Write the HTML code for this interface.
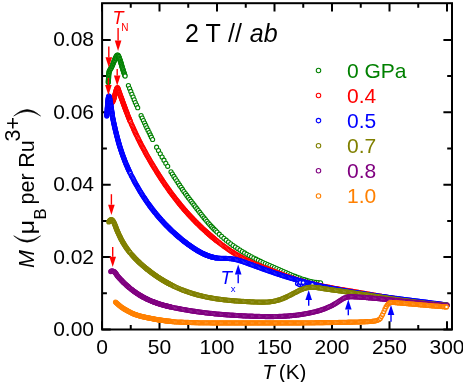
<!DOCTYPE html>
<html><head><meta charset="utf-8"><title>M vs T</title>
<style>
html,body{margin:0;padding:0;background:#fff;}
body{width:463px;height:382px;overflow:hidden;}
svg{display:block;will-change:transform;font-family:"Liberation Sans",sans-serif;}
circle{r:2.05px;fill:#fff;stroke-width:1.1px;}
.d circle{r:1.9px;stroke-width:1.4px;}
.ax{stroke:#000;stroke-width:2;fill:none;}
text{font-family:"Liberation Sans",sans-serif;}
</style></head><body>
<svg width="463" height="382" viewBox="0 0 463 382">
<rect width="463" height="382" fill="#fff"/>
<rect class="ax" x="102.1" y="3.2" width="349.9" height="326.3"/>
<path class="ax" d="M102.00 329.5v-8.3M102.00 3.2v8.3M130.75 329.5v-4.6M130.75 3.2v4.6M159.50 329.5v-8.3M159.50 3.2v8.3M188.25 329.5v-4.6M188.25 3.2v4.6M217.00 329.5v-8.3M217.00 3.2v8.3M245.75 329.5v-4.6M245.75 3.2v4.6M274.50 329.5v-8.3M274.50 3.2v8.3M303.25 329.5v-4.6M303.25 3.2v4.6M332.00 329.5v-8.3M332.00 3.2v8.3M360.75 329.5v-4.6M360.75 3.2v4.6M389.50 329.5v-8.3M389.50 3.2v8.3M418.25 329.5v-4.6M418.25 3.2v4.6M447.00 329.5v-8.3M447.00 3.2v8.3M102.1 329.50h8.6M452 329.50h-8.6M102.1 293.30h4.8M452 293.30h-4.8M102.1 257.10h8.6M452 257.10h-8.6M102.1 220.90h4.8M452 220.90h-4.8M102.1 184.70h8.6M452 184.70h-8.6M102.1 148.50h4.8M452 148.50h-4.8M102.1 112.30h8.6M452 112.30h-8.6M102.1 76.10h4.8M452 76.10h-4.8M102.1 39.90h8.6M452 39.90h-8.6"/>
<g stroke="#008000"><circle cx="108.3" cy="82.5"/><circle cx="108.3" cy="81.7"/><circle cx="108.4" cy="80.9"/><circle cx="108.4" cy="80.1"/><circle cx="108.5" cy="79.3"/><circle cx="108.5" cy="78.5"/><circle cx="108.6" cy="77.7"/><circle cx="108.6" cy="76.9"/><circle cx="108.6" cy="76.1"/><circle cx="108.7" cy="75.3"/><circle cx="108.7" cy="74.5"/><circle cx="108.8" cy="73.8"/><circle cx="108.9" cy="73.0"/><circle cx="109.0" cy="72.2"/><circle cx="109.2" cy="71.4"/><circle cx="109.5" cy="70.7"/><circle cx="109.9" cy="70.0"/><circle cx="110.3" cy="69.3"/><circle cx="110.7" cy="68.6"/><circle cx="111.1" cy="67.9"/><circle cx="111.5" cy="67.2"/><circle cx="111.8" cy="66.5"/><circle cx="112.2" cy="65.8"/><circle cx="112.5" cy="65.0"/><circle cx="112.8" cy="64.3"/><circle cx="113.1" cy="63.6"/><circle cx="113.4" cy="62.8"/><circle cx="113.7" cy="62.1"/><circle cx="114.0" cy="61.4"/><circle cx="114.3" cy="60.6"/><circle cx="114.6" cy="59.9"/><circle cx="114.9" cy="59.2"/><circle cx="115.3" cy="58.4"/><circle cx="115.6" cy="57.7"/><circle cx="115.9" cy="57.0"/><circle cx="116.3" cy="56.3"/><circle cx="116.7" cy="55.6"/><circle cx="117.2" cy="55.0"/><circle cx="117.9" cy="55.0"/><circle cx="118.3" cy="55.7"/><circle cx="118.7" cy="56.4"/><circle cx="119.0" cy="57.1"/><circle cx="119.3" cy="57.9"/><circle cx="119.5" cy="58.6"/><circle cx="119.8" cy="59.4"/><circle cx="120.1" cy="60.1"/><circle cx="120.3" cy="60.9"/><circle cx="120.6" cy="61.6"/><circle cx="120.8" cy="62.4"/><circle cx="121.0" cy="63.2"/><circle cx="121.3" cy="63.9"/><circle cx="121.5" cy="64.7"/><circle cx="121.7" cy="65.5"/><circle cx="121.9" cy="66.2"/><circle cx="122.1" cy="67.0"/><circle cx="122.4" cy="67.7"/><circle cx="122.6" cy="68.5"/><circle cx="122.9" cy="69.3"/><circle cx="123.1" cy="70.0"/><circle cx="123.3" cy="70.8"/><circle cx="123.6" cy="71.5"/><circle cx="123.8" cy="72.3"/><circle cx="124.1" cy="73.1"/><circle cx="124.3" cy="73.8"/><circle cx="124.6" cy="74.6"/><circle cx="124.8" cy="75.3"/><circle cx="125.1" cy="76.1"/><circle cx="128.4" cy="85.5"/><circle cx="129.6" cy="88.5"/><circle cx="130.8" cy="91.4"/><circle cx="131.9" cy="94.3"/><circle cx="133.1" cy="97.1"/><circle cx="134.2" cy="99.8"/><circle cx="135.3" cy="102.5"/><circle cx="136.5" cy="105.1"/><circle cx="137.7" cy="107.7"/><circle cx="141.1" cy="115.5"/><circle cx="142.2" cy="118.0"/><circle cx="143.4" cy="120.5"/><circle cx="144.6" cy="123.0"/><circle cx="145.7" cy="125.4"/><circle cx="146.8" cy="127.8"/><circle cx="148.0" cy="130.2"/><circle cx="149.2" cy="132.6"/><circle cx="150.3" cy="134.9"/><circle cx="151.4" cy="137.2"/><circle cx="152.6" cy="139.5"/><circle cx="156.6" cy="147.2"/><circle cx="158.5" cy="150.6"/><circle cx="160.3" cy="153.8"/><circle cx="162.1" cy="157.1"/><circle cx="164.0" cy="160.2"/><circle cx="165.8" cy="163.3"/><circle cx="167.7" cy="166.3"/><circle cx="171.0" cy="171.8"/><circle cx="172.4" cy="174.1"/><circle cx="173.9" cy="176.4"/><circle cx="175.3" cy="178.6"/><circle cx="176.8" cy="180.8"/><circle cx="178.2" cy="183.0"/><circle cx="179.6" cy="185.2"/><circle cx="181.1" cy="187.3"/><circle cx="182.5" cy="189.4"/><circle cx="183.9" cy="191.5"/><circle cx="185.4" cy="193.5"/><circle cx="186.8" cy="195.4"/><circle cx="188.2" cy="197.4"/><circle cx="189.7" cy="199.3"/><circle cx="191.1" cy="201.2"/><circle cx="192.6" cy="203.1"/><circle cx="194.0" cy="204.9"/><circle cx="195.4" cy="206.8"/><circle cx="196.9" cy="208.7"/><circle cx="198.3" cy="210.6"/><circle cx="199.8" cy="212.4"/><circle cx="201.2" cy="214.3"/><circle cx="202.6" cy="216.1"/><circle cx="204.1" cy="217.9"/><circle cx="205.5" cy="219.6"/><circle cx="206.9" cy="221.3"/><circle cx="208.4" cy="223.0"/><circle cx="209.8" cy="224.6"/><circle cx="211.2" cy="226.2"/><circle cx="212.7" cy="227.7"/><circle cx="214.1" cy="229.2"/><circle cx="215.6" cy="230.6"/><circle cx="217.0" cy="232.0"/><circle cx="219.3" cy="234.2"/><circle cx="221.6" cy="236.3"/><circle cx="223.9" cy="238.3"/><circle cx="226.2" cy="240.2"/><circle cx="228.5" cy="242.0"/><circle cx="230.8" cy="243.8"/><circle cx="233.1" cy="245.5"/><circle cx="235.4" cy="247.1"/><circle cx="237.7" cy="248.6"/><circle cx="240.0" cy="250.1"/><circle cx="242.3" cy="251.6"/><circle cx="244.6" cy="252.9"/><circle cx="246.9" cy="254.3"/><circle cx="249.2" cy="255.6"/><circle cx="251.5" cy="256.8"/><circle cx="253.8" cy="258.0"/><circle cx="256.1" cy="259.2"/><circle cx="258.4" cy="260.3"/><circle cx="260.7" cy="261.4"/><circle cx="263.0" cy="262.5"/><circle cx="265.3" cy="263.5"/><circle cx="267.6" cy="264.5"/><circle cx="269.9" cy="265.6"/><circle cx="272.2" cy="266.6"/><circle cx="274.5" cy="267.6"/><circle cx="276.8" cy="268.6"/><circle cx="279.1" cy="269.5"/><circle cx="281.4" cy="270.5"/><circle cx="283.7" cy="271.5"/><circle cx="286.0" cy="272.5"/><circle cx="288.3" cy="273.5"/><circle cx="290.6" cy="274.5"/><circle cx="292.9" cy="275.5"/><circle cx="295.2" cy="276.4"/><circle cx="297.5" cy="277.3"/><circle cx="299.8" cy="278.1"/><circle cx="302.1" cy="279.0"/><circle cx="304.4" cy="279.7"/><circle cx="306.7" cy="280.4"/><circle cx="309.0" cy="281.0"/><circle cx="311.3" cy="281.6"/><circle cx="313.6" cy="282.0"/><circle cx="315.9" cy="282.4"/><circle cx="318.2" cy="282.6"/><circle cx="320.5" cy="282.8"/></g>
<g stroke="#ff0000" class="d"><circle cx="107.5" cy="110.0"/><circle cx="107.8" cy="109.3"/><circle cx="108.1" cy="108.6"/><circle cx="108.5" cy="107.8"/><circle cx="108.8" cy="107.1"/><circle cx="109.2" cy="106.4"/><circle cx="109.6" cy="105.7"/><circle cx="110.0" cy="105.1"/><circle cx="110.4" cy="104.4"/><circle cx="110.9" cy="103.8"/><circle cx="111.5" cy="103.2"/><circle cx="112.0" cy="102.6"/><circle cx="112.5" cy="102.0"/><circle cx="112.9" cy="101.3"/><circle cx="113.3" cy="100.6"/><circle cx="113.5" cy="99.9"/><circle cx="113.8" cy="99.1"/><circle cx="114.0" cy="98.4"/><circle cx="114.2" cy="97.6"/><circle cx="114.4" cy="96.9"/><circle cx="114.6" cy="96.1"/><circle cx="114.8" cy="95.3"/><circle cx="115.0" cy="94.5"/><circle cx="115.2" cy="93.8"/><circle cx="115.4" cy="93.0"/><circle cx="115.6" cy="92.3"/><circle cx="115.8" cy="91.5"/><circle cx="116.0" cy="90.7"/><circle cx="116.3" cy="90.0"/><circle cx="116.5" cy="89.2"/><circle cx="116.8" cy="88.5"/><circle cx="117.1" cy="87.8"/><circle cx="117.6" cy="87.6"/><circle cx="117.9" cy="88.3"/><circle cx="118.2" cy="89.1"/><circle cx="118.5" cy="89.8"/><circle cx="118.7" cy="90.6"/><circle cx="119.0" cy="91.3"/><circle cx="119.2" cy="92.1"/><circle cx="119.5" cy="92.8"/><circle cx="119.8" cy="93.5"/><circle cx="120.0" cy="94.3"/><circle cx="120.3" cy="95.0"/><circle cx="120.6" cy="95.8"/><circle cx="120.8" cy="96.5"/><circle cx="121.1" cy="97.3"/><circle cx="121.4" cy="98.0"/><circle cx="121.7" cy="98.7"/><circle cx="121.9" cy="99.5"/><circle cx="122.2" cy="100.2"/><circle cx="122.5" cy="101.0"/><circle cx="122.7" cy="101.7"/><circle cx="123.0" cy="102.5"/><circle cx="123.3" cy="103.2"/><circle cx="123.5" cy="104.0"/><circle cx="123.8" cy="104.7"/><circle cx="124.1" cy="105.4"/><circle cx="124.4" cy="106.2"/><circle cx="124.6" cy="106.9"/><circle cx="124.9" cy="107.7"/><circle cx="125.2" cy="108.4"/><circle cx="125.5" cy="109.1"/><circle cx="125.7" cy="109.9"/><circle cx="126.0" cy="110.6"/><circle cx="126.3" cy="111.4"/><circle cx="126.6" cy="112.1"/><circle cx="126.9" cy="112.8"/><circle cx="127.2" cy="113.6"/><circle cx="127.4" cy="114.3"/><circle cx="127.7" cy="115.0"/><circle cx="128.0" cy="115.8"/><circle cx="128.3" cy="116.5"/><circle cx="128.6" cy="117.3"/><circle cx="128.9" cy="118.0"/><circle cx="129.2" cy="118.7"/><circle cx="129.5" cy="119.4"/><circle cx="129.8" cy="120.2"/><circle cx="130.1" cy="120.9"/><circle cx="130.4" cy="121.6"/><circle cx="131.3" cy="123.7"/><circle cx="131.9" cy="125.0"/><circle cx="132.5" cy="126.3"/><circle cx="133.1" cy="127.6"/><circle cx="133.6" cy="128.9"/><circle cx="134.2" cy="130.2"/><circle cx="134.8" cy="131.4"/><circle cx="135.3" cy="132.7"/><circle cx="135.9" cy="133.9"/><circle cx="136.5" cy="135.1"/><circle cx="137.1" cy="136.3"/><circle cx="137.7" cy="137.5"/><circle cx="138.2" cy="138.7"/><circle cx="138.8" cy="139.8"/><circle cx="139.4" cy="141.0"/><circle cx="139.9" cy="142.1"/><circle cx="140.5" cy="143.2"/><circle cx="141.1" cy="144.4"/><circle cx="141.7" cy="145.5"/><circle cx="142.2" cy="146.6"/><circle cx="142.8" cy="147.6"/><circle cx="143.4" cy="148.7"/><circle cx="144.0" cy="149.8"/><circle cx="144.6" cy="150.8"/><circle cx="145.1" cy="151.9"/><circle cx="145.7" cy="152.9"/><circle cx="146.3" cy="154.0"/><circle cx="146.8" cy="155.0"/><circle cx="147.4" cy="156.0"/><circle cx="148.0" cy="157.0"/><circle cx="148.6" cy="158.0"/><circle cx="149.2" cy="159.0"/><circle cx="149.7" cy="160.0"/><circle cx="150.3" cy="161.0"/><circle cx="150.9" cy="162.0"/><circle cx="151.4" cy="163.0"/><circle cx="152.0" cy="163.9"/><circle cx="152.6" cy="164.9"/><circle cx="153.2" cy="165.9"/><circle cx="153.8" cy="166.8"/><circle cx="154.3" cy="167.8"/><circle cx="154.9" cy="168.7"/><circle cx="155.5" cy="169.6"/><circle cx="156.1" cy="170.6"/><circle cx="156.6" cy="171.5"/><circle cx="157.2" cy="172.4"/><circle cx="157.8" cy="173.3"/><circle cx="158.3" cy="174.2"/><circle cx="158.9" cy="175.1"/><circle cx="159.5" cy="176.0"/><circle cx="160.1" cy="176.9"/><circle cx="160.7" cy="177.8"/><circle cx="161.2" cy="178.7"/><circle cx="161.8" cy="179.5"/><circle cx="162.4" cy="180.4"/><circle cx="162.9" cy="181.3"/><circle cx="163.5" cy="182.1"/><circle cx="164.1" cy="183.0"/><circle cx="164.7" cy="183.8"/><circle cx="165.2" cy="184.7"/><circle cx="165.8" cy="185.5"/><circle cx="166.4" cy="186.3"/><circle cx="167.0" cy="187.1"/><circle cx="167.6" cy="188.0"/><circle cx="168.1" cy="188.8"/><circle cx="168.7" cy="189.6"/><circle cx="169.3" cy="190.4"/><circle cx="169.8" cy="191.2"/><circle cx="170.4" cy="192.0"/><circle cx="171.0" cy="192.8"/><circle cx="171.6" cy="193.5"/><circle cx="172.1" cy="194.3"/><circle cx="172.7" cy="195.1"/><circle cx="173.3" cy="195.8"/><circle cx="173.9" cy="196.6"/><circle cx="174.4" cy="197.3"/><circle cx="175.0" cy="198.1"/><circle cx="175.6" cy="198.8"/><circle cx="176.2" cy="199.6"/><circle cx="176.8" cy="200.3"/><circle cx="177.3" cy="201.0"/><circle cx="177.9" cy="201.7"/><circle cx="178.5" cy="202.5"/><circle cx="179.1" cy="203.2"/><circle cx="179.6" cy="203.9"/><circle cx="180.2" cy="204.6"/><circle cx="180.8" cy="205.3"/><circle cx="181.3" cy="206.0"/><circle cx="181.9" cy="206.7"/><circle cx="182.5" cy="207.3"/><circle cx="183.1" cy="208.0"/><circle cx="183.6" cy="208.7"/><circle cx="184.2" cy="209.4"/><circle cx="184.8" cy="210.0"/><circle cx="185.4" cy="210.7"/><circle cx="185.9" cy="211.3"/><circle cx="186.5" cy="212.0"/><circle cx="187.1" cy="212.6"/><circle cx="187.7" cy="213.3"/><circle cx="188.2" cy="213.9"/><circle cx="188.8" cy="214.5"/><circle cx="189.4" cy="215.2"/><circle cx="190.0" cy="215.8"/><circle cx="190.6" cy="216.4"/><circle cx="191.1" cy="217.0"/><circle cx="191.7" cy="217.6"/><circle cx="192.3" cy="218.2"/><circle cx="192.8" cy="218.8"/><circle cx="193.4" cy="219.4"/><circle cx="194.0" cy="220.0"/><circle cx="194.6" cy="220.6"/><circle cx="195.1" cy="221.2"/><circle cx="195.7" cy="221.8"/><circle cx="196.3" cy="222.4"/><circle cx="196.9" cy="222.9"/><circle cx="197.4" cy="223.5"/><circle cx="198.0" cy="224.1"/><circle cx="198.6" cy="224.6"/><circle cx="199.2" cy="225.2"/><circle cx="199.8" cy="225.8"/><circle cx="200.3" cy="226.3"/><circle cx="200.9" cy="226.9"/><circle cx="201.5" cy="227.4"/><circle cx="202.1" cy="228.0"/><circle cx="202.6" cy="228.5"/><circle cx="203.2" cy="229.0"/><circle cx="203.8" cy="229.6"/><circle cx="204.3" cy="230.1"/><circle cx="204.9" cy="230.6"/><circle cx="205.5" cy="231.1"/><circle cx="206.1" cy="231.7"/><circle cx="206.6" cy="232.2"/><circle cx="207.2" cy="232.7"/><circle cx="207.8" cy="233.2"/><circle cx="208.4" cy="233.7"/><circle cx="208.9" cy="234.2"/><circle cx="209.5" cy="234.7"/><circle cx="210.1" cy="235.2"/><circle cx="210.7" cy="235.7"/><circle cx="211.2" cy="236.2"/><circle cx="211.8" cy="236.7"/><circle cx="212.4" cy="237.2"/><circle cx="213.0" cy="237.7"/><circle cx="213.6" cy="238.1"/><circle cx="214.1" cy="238.6"/><circle cx="214.7" cy="239.1"/><circle cx="215.3" cy="239.5"/><circle cx="215.8" cy="240.0"/><circle cx="216.4" cy="240.5"/><circle cx="217.0" cy="240.9"/><circle cx="218.1" cy="241.8"/><circle cx="219.3" cy="242.7"/><circle cx="220.4" cy="243.6"/><circle cx="221.6" cy="244.5"/><circle cx="222.8" cy="245.3"/><circle cx="223.9" cy="246.2"/><circle cx="225.1" cy="247.0"/><circle cx="226.2" cy="247.8"/><circle cx="227.3" cy="248.6"/><circle cx="228.5" cy="249.4"/><circle cx="229.6" cy="250.2"/><circle cx="230.8" cy="251.0"/><circle cx="231.9" cy="251.7"/><circle cx="233.1" cy="252.4"/><circle cx="234.2" cy="253.2"/><circle cx="235.4" cy="253.9"/><circle cx="236.5" cy="254.6"/><circle cx="237.7" cy="255.2"/><circle cx="238.8" cy="255.9"/><circle cx="240.0" cy="256.6"/><circle cx="241.1" cy="257.2"/><circle cx="242.3" cy="257.8"/><circle cx="243.4" cy="258.4"/><circle cx="244.6" cy="259.0"/><circle cx="245.8" cy="259.6"/><circle cx="246.9" cy="260.2"/><circle cx="248.0" cy="260.7"/><circle cx="249.2" cy="261.2"/><circle cx="250.3" cy="261.8"/><circle cx="251.5" cy="262.3"/><circle cx="252.6" cy="262.8"/><circle cx="253.8" cy="263.3"/><circle cx="254.9" cy="263.8"/><circle cx="256.1" cy="264.3"/><circle cx="257.2" cy="264.7"/><circle cx="258.4" cy="265.2"/><circle cx="259.5" cy="265.7"/><circle cx="260.7" cy="266.1"/><circle cx="261.9" cy="266.6"/><circle cx="263.0" cy="267.0"/><circle cx="264.1" cy="267.5"/><circle cx="265.3" cy="267.9"/><circle cx="266.4" cy="268.3"/><circle cx="267.6" cy="268.8"/><circle cx="268.8" cy="269.2"/><circle cx="269.9" cy="269.7"/><circle cx="271.0" cy="270.1"/><circle cx="272.2" cy="270.6"/><circle cx="273.4" cy="271.0"/><circle cx="274.5" cy="271.5"/><circle cx="275.6" cy="271.9"/><circle cx="276.8" cy="272.4"/><circle cx="277.9" cy="272.8"/><circle cx="279.1" cy="273.2"/><circle cx="280.2" cy="273.7"/><circle cx="281.4" cy="274.1"/><circle cx="282.5" cy="274.6"/><circle cx="283.7" cy="275.0"/><circle cx="284.9" cy="275.4"/><circle cx="286.0" cy="275.9"/><circle cx="287.1" cy="276.3"/><circle cx="288.3" cy="276.7"/><circle cx="289.4" cy="277.1"/><circle cx="290.6" cy="277.5"/><circle cx="291.8" cy="277.9"/><circle cx="292.9" cy="278.3"/><circle cx="294.0" cy="278.7"/><circle cx="295.2" cy="279.1"/><circle cx="296.4" cy="279.5"/><circle cx="297.5" cy="279.8"/><circle cx="298.6" cy="280.2"/><circle cx="299.8" cy="280.5"/><circle cx="300.9" cy="280.9"/><circle cx="302.1" cy="281.2"/><circle cx="303.2" cy="281.5"/><circle cx="304.4" cy="281.8"/><circle cx="305.5" cy="282.2"/><circle cx="306.7" cy="282.5"/><circle cx="307.9" cy="282.8"/><circle cx="309.0" cy="283.0"/><circle cx="310.1" cy="283.3"/><circle cx="311.3" cy="283.6"/><circle cx="312.4" cy="283.9"/><circle cx="313.6" cy="284.1"/><circle cx="314.8" cy="284.4"/><circle cx="315.9" cy="284.7"/><circle cx="317.0" cy="284.9"/><circle cx="318.2" cy="285.2"/><circle cx="319.4" cy="285.4"/><circle cx="320.5" cy="285.7"/><circle cx="321.6" cy="285.9"/><circle cx="322.8" cy="286.1"/><circle cx="323.9" cy="286.3"/><circle cx="325.1" cy="286.6"/><circle cx="326.2" cy="286.8"/><circle cx="327.4" cy="287.0"/><circle cx="328.5" cy="287.2"/><circle cx="329.7" cy="287.4"/><circle cx="330.9" cy="287.6"/><circle cx="332.0" cy="287.9"/><circle cx="333.1" cy="288.1"/><circle cx="334.3" cy="288.3"/><circle cx="335.4" cy="288.5"/><circle cx="336.6" cy="288.7"/><circle cx="337.8" cy="288.9"/><circle cx="338.9" cy="289.1"/><circle cx="340.0" cy="289.3"/><circle cx="341.2" cy="289.5"/><circle cx="342.4" cy="289.7"/><circle cx="343.5" cy="289.9"/><circle cx="344.6" cy="290.1"/><circle cx="345.8" cy="290.3"/><circle cx="346.9" cy="290.4"/><circle cx="348.1" cy="290.6"/><circle cx="349.2" cy="290.8"/><circle cx="350.4" cy="291.0"/><circle cx="351.5" cy="291.2"/><circle cx="352.7" cy="291.4"/><circle cx="353.9" cy="291.6"/><circle cx="355.0" cy="291.8"/><circle cx="356.1" cy="292.0"/><circle cx="357.3" cy="292.2"/><circle cx="358.4" cy="292.4"/><circle cx="359.6" cy="292.6"/><circle cx="360.8" cy="292.8"/><circle cx="361.9" cy="293.0"/><circle cx="363.0" cy="293.2"/><circle cx="364.2" cy="293.4"/><circle cx="365.3" cy="293.6"/><circle cx="366.5" cy="293.8"/><circle cx="367.6" cy="294.0"/><circle cx="368.8" cy="294.2"/><circle cx="369.9" cy="294.4"/><circle cx="371.1" cy="294.6"/><circle cx="372.2" cy="294.8"/><circle cx="373.4" cy="295.0"/><circle cx="374.5" cy="295.2"/><circle cx="375.7" cy="295.4"/><circle cx="376.8" cy="295.6"/><circle cx="378.0" cy="295.8"/><circle cx="379.1" cy="296.0"/><circle cx="380.3" cy="296.2"/><circle cx="381.4" cy="296.4"/><circle cx="382.6" cy="296.6"/><circle cx="383.8" cy="296.7"/><circle cx="384.9" cy="296.9"/><circle cx="386.0" cy="297.1"/><circle cx="387.2" cy="297.3"/><circle cx="388.3" cy="297.5"/><circle cx="389.5" cy="297.7"/><circle cx="390.6" cy="297.9"/><circle cx="391.8" cy="298.1"/><circle cx="392.9" cy="298.2"/><circle cx="394.1" cy="298.4"/><circle cx="395.2" cy="298.6"/><circle cx="396.4" cy="298.8"/><circle cx="397.5" cy="299.0"/><circle cx="398.7" cy="299.1"/><circle cx="399.8" cy="299.3"/><circle cx="401.0" cy="299.5"/><circle cx="402.1" cy="299.6"/><circle cx="403.3" cy="299.8"/><circle cx="404.4" cy="300.0"/><circle cx="405.6" cy="300.2"/><circle cx="406.8" cy="300.3"/><circle cx="407.9" cy="300.5"/><circle cx="409.0" cy="300.6"/><circle cx="410.2" cy="300.8"/><circle cx="411.3" cy="301.0"/><circle cx="412.5" cy="301.1"/><circle cx="413.6" cy="301.3"/><circle cx="414.8" cy="301.4"/><circle cx="415.9" cy="301.6"/><circle cx="417.1" cy="301.7"/><circle cx="418.2" cy="301.9"/><circle cx="419.4" cy="302.0"/><circle cx="420.5" cy="302.2"/><circle cx="421.7" cy="302.3"/><circle cx="422.8" cy="302.5"/><circle cx="424.0" cy="302.6"/><circle cx="425.1" cy="302.7"/><circle cx="426.3" cy="302.9"/><circle cx="427.4" cy="303.0"/><circle cx="428.6" cy="303.1"/><circle cx="429.8" cy="303.3"/><circle cx="430.9" cy="303.4"/><circle cx="432.0" cy="303.5"/><circle cx="433.2" cy="303.6"/><circle cx="434.3" cy="303.8"/><circle cx="435.5" cy="303.9"/><circle cx="436.6" cy="304.0"/><circle cx="437.8" cy="304.1"/><circle cx="438.9" cy="304.2"/><circle cx="440.1" cy="304.3"/><circle cx="441.2" cy="304.4"/><circle cx="442.4" cy="304.5"/><circle cx="443.5" cy="304.6"/><circle cx="444.7" cy="304.7"/><circle cx="445.8" cy="304.8"/><circle cx="447.0" cy="304.9"/></g>
<g stroke="#0000ff" class="d"><circle cx="106.8" cy="116.1"/><circle cx="106.8" cy="115.3"/><circle cx="106.9" cy="114.5"/><circle cx="107.0" cy="113.7"/><circle cx="107.0" cy="112.9"/><circle cx="107.1" cy="112.1"/><circle cx="107.1" cy="111.3"/><circle cx="107.2" cy="110.5"/><circle cx="107.2" cy="109.7"/><circle cx="107.3" cy="108.9"/><circle cx="107.3" cy="108.1"/><circle cx="107.4" cy="107.3"/><circle cx="107.5" cy="106.5"/><circle cx="107.5" cy="105.7"/><circle cx="107.6" cy="104.9"/><circle cx="107.6" cy="104.1"/><circle cx="107.7" cy="103.3"/><circle cx="107.8" cy="102.6"/><circle cx="107.8" cy="101.8"/><circle cx="107.9" cy="101.0"/><circle cx="108.0" cy="100.2"/><circle cx="108.1" cy="99.4"/><circle cx="108.2" cy="98.6"/><circle cx="108.3" cy="97.8"/><circle cx="108.5" cy="97.0"/><circle cx="108.7" cy="96.2"/><circle cx="109.1" cy="96.0"/><circle cx="109.3" cy="96.8"/><circle cx="109.5" cy="97.6"/><circle cx="109.7" cy="98.3"/><circle cx="109.8" cy="99.1"/><circle cx="110.0" cy="99.9"/><circle cx="110.1" cy="100.7"/><circle cx="110.3" cy="101.5"/><circle cx="110.4" cy="102.3"/><circle cx="110.5" cy="103.1"/><circle cx="110.6" cy="103.8"/><circle cx="110.8" cy="104.6"/><circle cx="110.9" cy="105.4"/><circle cx="111.0" cy="106.2"/><circle cx="111.1" cy="107.0"/><circle cx="111.3" cy="107.8"/><circle cx="111.4" cy="108.6"/><circle cx="111.5" cy="109.4"/><circle cx="111.6" cy="110.2"/><circle cx="111.7" cy="111.0"/><circle cx="111.8" cy="111.7"/><circle cx="112.0" cy="112.5"/><circle cx="112.1" cy="113.3"/><circle cx="112.2" cy="114.1"/><circle cx="112.3" cy="114.9"/><circle cx="112.4" cy="115.7"/><circle cx="112.5" cy="116.5"/><circle cx="112.6" cy="117.3"/><circle cx="112.8" cy="118.1"/><circle cx="112.9" cy="118.8"/><circle cx="113.1" cy="119.6"/><circle cx="113.3" cy="120.4"/><circle cx="113.4" cy="121.2"/><circle cx="113.6" cy="122.0"/><circle cx="113.8" cy="122.8"/><circle cx="113.9" cy="123.5"/><circle cx="114.1" cy="124.3"/><circle cx="114.3" cy="125.1"/><circle cx="114.4" cy="125.9"/><circle cx="114.6" cy="126.7"/><circle cx="114.8" cy="127.4"/><circle cx="115.0" cy="128.2"/><circle cx="115.2" cy="129.0"/><circle cx="115.3" cy="129.8"/><circle cx="115.5" cy="130.6"/><circle cx="115.7" cy="131.3"/><circle cx="115.9" cy="132.1"/><circle cx="116.1" cy="132.9"/><circle cx="116.3" cy="133.7"/><circle cx="116.5" cy="134.4"/><circle cx="116.7" cy="135.2"/><circle cx="116.9" cy="136.0"/><circle cx="117.1" cy="136.8"/><circle cx="117.3" cy="137.5"/><circle cx="117.5" cy="138.3"/><circle cx="117.7" cy="139.1"/><circle cx="117.9" cy="139.8"/><circle cx="118.1" cy="140.6"/><circle cx="118.3" cy="141.4"/><circle cx="118.5" cy="142.2"/><circle cx="118.8" cy="142.9"/><circle cx="119.0" cy="143.7"/><circle cx="119.2" cy="144.5"/><circle cx="119.4" cy="145.2"/><circle cx="119.7" cy="146.0"/><circle cx="119.9" cy="146.8"/><circle cx="120.1" cy="147.5"/><circle cx="120.4" cy="148.3"/><circle cx="120.6" cy="149.0"/><circle cx="120.9" cy="149.8"/><circle cx="121.1" cy="150.6"/><circle cx="121.4" cy="151.3"/><circle cx="121.6" cy="152.1"/><circle cx="121.9" cy="152.8"/><circle cx="122.1" cy="153.6"/><circle cx="122.4" cy="154.3"/><circle cx="122.7" cy="155.1"/><circle cx="122.9" cy="155.8"/><circle cx="123.2" cy="156.6"/><circle cx="123.5" cy="157.3"/><circle cx="123.8" cy="158.1"/><circle cx="124.1" cy="158.8"/><circle cx="124.3" cy="159.6"/><circle cx="124.6" cy="160.3"/><circle cx="124.9" cy="161.1"/><circle cx="125.2" cy="161.8"/><circle cx="125.5" cy="162.6"/><circle cx="125.8" cy="163.3"/><circle cx="126.1" cy="164.0"/><circle cx="126.4" cy="164.8"/><circle cx="126.8" cy="165.5"/><circle cx="127.1" cy="166.2"/><circle cx="127.4" cy="167.0"/><circle cx="127.7" cy="167.7"/><circle cx="128.0" cy="168.4"/><circle cx="128.4" cy="169.2"/><circle cx="128.7" cy="169.9"/><circle cx="129.0" cy="170.6"/><circle cx="129.4" cy="171.3"/><circle cx="129.7" cy="172.1"/><circle cx="130.1" cy="172.8"/><circle cx="130.4" cy="173.5"/><circle cx="131.3" cy="175.4"/><circle cx="131.9" cy="176.5"/><circle cx="132.5" cy="177.6"/><circle cx="133.1" cy="178.7"/><circle cx="133.6" cy="179.8"/><circle cx="134.2" cy="180.9"/><circle cx="134.8" cy="182.0"/><circle cx="135.3" cy="183.0"/><circle cx="135.9" cy="184.0"/><circle cx="136.5" cy="185.1"/><circle cx="137.1" cy="186.1"/><circle cx="137.7" cy="187.1"/><circle cx="138.2" cy="188.1"/><circle cx="138.8" cy="189.0"/><circle cx="139.4" cy="190.0"/><circle cx="139.9" cy="191.0"/><circle cx="140.5" cy="191.9"/><circle cx="141.1" cy="192.8"/><circle cx="141.7" cy="193.8"/><circle cx="142.2" cy="194.7"/><circle cx="142.8" cy="195.6"/><circle cx="143.4" cy="196.5"/><circle cx="144.0" cy="197.4"/><circle cx="144.6" cy="198.2"/><circle cx="145.1" cy="199.1"/><circle cx="145.7" cy="199.9"/><circle cx="146.3" cy="200.8"/><circle cx="146.8" cy="201.6"/><circle cx="147.4" cy="202.5"/><circle cx="148.0" cy="203.3"/><circle cx="148.6" cy="204.1"/><circle cx="149.2" cy="204.9"/><circle cx="149.7" cy="205.7"/><circle cx="150.3" cy="206.4"/><circle cx="150.9" cy="207.2"/><circle cx="151.4" cy="208.0"/><circle cx="152.0" cy="208.7"/><circle cx="152.6" cy="209.5"/><circle cx="153.2" cy="210.2"/><circle cx="153.8" cy="211.0"/><circle cx="154.3" cy="211.7"/><circle cx="154.9" cy="212.4"/><circle cx="155.5" cy="213.1"/><circle cx="156.1" cy="213.8"/><circle cx="156.6" cy="214.5"/><circle cx="157.2" cy="215.2"/><circle cx="157.8" cy="215.9"/><circle cx="158.3" cy="216.6"/><circle cx="158.9" cy="217.2"/><circle cx="159.5" cy="217.9"/><circle cx="160.1" cy="218.5"/><circle cx="160.7" cy="219.2"/><circle cx="161.2" cy="219.8"/><circle cx="161.8" cy="220.5"/><circle cx="162.4" cy="221.1"/><circle cx="162.9" cy="221.7"/><circle cx="163.5" cy="222.3"/><circle cx="164.1" cy="223.0"/><circle cx="164.7" cy="223.6"/><circle cx="165.2" cy="224.2"/><circle cx="165.8" cy="224.8"/><circle cx="166.4" cy="225.4"/><circle cx="167.0" cy="225.9"/><circle cx="167.6" cy="226.5"/><circle cx="168.1" cy="227.1"/><circle cx="168.7" cy="227.7"/><circle cx="169.3" cy="228.2"/><circle cx="169.8" cy="228.8"/><circle cx="170.4" cy="229.4"/><circle cx="171.0" cy="229.9"/><circle cx="171.6" cy="230.5"/><circle cx="172.1" cy="231.0"/><circle cx="172.7" cy="231.5"/><circle cx="173.3" cy="232.1"/><circle cx="173.9" cy="232.6"/><circle cx="174.4" cy="233.1"/><circle cx="175.0" cy="233.6"/><circle cx="175.6" cy="234.2"/><circle cx="176.2" cy="234.7"/><circle cx="176.8" cy="235.2"/><circle cx="177.3" cy="235.7"/><circle cx="177.9" cy="236.2"/><circle cx="178.5" cy="236.7"/><circle cx="179.1" cy="237.2"/><circle cx="179.6" cy="237.6"/><circle cx="180.2" cy="238.1"/><circle cx="180.8" cy="238.6"/><circle cx="181.3" cy="239.1"/><circle cx="181.9" cy="239.5"/><circle cx="182.5" cy="240.0"/><circle cx="183.1" cy="240.5"/><circle cx="183.6" cy="240.9"/><circle cx="184.2" cy="241.4"/><circle cx="184.8" cy="241.8"/><circle cx="185.4" cy="242.2"/><circle cx="185.9" cy="242.7"/><circle cx="186.5" cy="243.1"/><circle cx="187.1" cy="243.5"/><circle cx="187.7" cy="244.0"/><circle cx="188.2" cy="244.4"/><circle cx="188.8" cy="244.8"/><circle cx="189.4" cy="245.2"/><circle cx="190.0" cy="245.6"/><circle cx="190.6" cy="246.0"/><circle cx="191.1" cy="246.4"/><circle cx="191.7" cy="246.8"/><circle cx="192.3" cy="247.2"/><circle cx="192.8" cy="247.6"/><circle cx="193.4" cy="248.0"/><circle cx="194.0" cy="248.4"/><circle cx="194.6" cy="248.7"/><circle cx="195.1" cy="249.1"/><circle cx="195.7" cy="249.5"/><circle cx="196.3" cy="249.8"/><circle cx="196.9" cy="250.2"/><circle cx="197.4" cy="250.5"/><circle cx="198.0" cy="250.9"/><circle cx="198.6" cy="251.2"/><circle cx="199.2" cy="251.5"/><circle cx="199.8" cy="251.8"/><circle cx="200.3" cy="252.2"/><circle cx="200.9" cy="252.5"/><circle cx="201.5" cy="252.8"/><circle cx="202.1" cy="253.1"/><circle cx="202.6" cy="253.4"/><circle cx="203.2" cy="253.6"/><circle cx="203.8" cy="253.9"/><circle cx="204.3" cy="254.2"/><circle cx="204.9" cy="254.4"/><circle cx="205.5" cy="254.7"/><circle cx="206.1" cy="254.9"/><circle cx="206.6" cy="255.2"/><circle cx="207.2" cy="255.4"/><circle cx="207.8" cy="255.6"/><circle cx="208.4" cy="255.8"/><circle cx="208.9" cy="256.0"/><circle cx="209.5" cy="256.2"/><circle cx="210.1" cy="256.4"/><circle cx="210.7" cy="256.6"/><circle cx="211.2" cy="256.8"/><circle cx="211.8" cy="256.9"/><circle cx="212.4" cy="257.1"/><circle cx="213.0" cy="257.2"/><circle cx="213.6" cy="257.4"/><circle cx="214.1" cy="257.5"/><circle cx="214.7" cy="257.6"/><circle cx="215.3" cy="257.7"/><circle cx="215.8" cy="257.8"/><circle cx="216.4" cy="257.9"/><circle cx="217.0" cy="258.0"/><circle cx="218.1" cy="258.1"/><circle cx="219.3" cy="258.2"/><circle cx="220.4" cy="258.3"/><circle cx="221.6" cy="258.3"/><circle cx="222.8" cy="258.4"/><circle cx="223.9" cy="258.4"/><circle cx="225.1" cy="258.4"/><circle cx="226.2" cy="258.4"/><circle cx="227.3" cy="258.5"/><circle cx="228.5" cy="258.5"/><circle cx="229.6" cy="258.6"/><circle cx="230.8" cy="258.7"/><circle cx="231.9" cy="258.8"/><circle cx="233.1" cy="259.0"/><circle cx="234.2" cy="259.2"/><circle cx="235.4" cy="259.4"/><circle cx="236.5" cy="259.7"/><circle cx="237.7" cy="260.0"/><circle cx="238.8" cy="260.3"/><circle cx="240.0" cy="260.7"/><circle cx="241.1" cy="261.0"/><circle cx="242.3" cy="261.4"/><circle cx="243.4" cy="261.8"/><circle cx="244.6" cy="262.2"/><circle cx="245.8" cy="262.6"/><circle cx="246.9" cy="263.0"/><circle cx="248.0" cy="263.5"/><circle cx="249.2" cy="263.9"/><circle cx="250.3" cy="264.3"/><circle cx="251.5" cy="264.7"/><circle cx="252.6" cy="265.1"/><circle cx="253.8" cy="265.5"/><circle cx="254.9" cy="266.0"/><circle cx="256.1" cy="266.4"/><circle cx="257.2" cy="266.8"/><circle cx="258.4" cy="267.2"/><circle cx="259.5" cy="267.6"/><circle cx="260.7" cy="268.0"/><circle cx="261.9" cy="268.4"/><circle cx="263.0" cy="268.9"/><circle cx="264.1" cy="269.3"/><circle cx="265.3" cy="269.7"/><circle cx="266.4" cy="270.1"/><circle cx="267.6" cy="270.5"/><circle cx="268.8" cy="270.9"/><circle cx="269.9" cy="271.3"/><circle cx="271.0" cy="271.7"/><circle cx="272.2" cy="272.1"/><circle cx="273.4" cy="272.5"/><circle cx="274.5" cy="272.9"/><circle cx="275.6" cy="273.3"/><circle cx="276.8" cy="273.7"/><circle cx="277.9" cy="274.1"/><circle cx="279.1" cy="274.4"/><circle cx="280.2" cy="274.8"/><circle cx="281.4" cy="275.2"/><circle cx="282.5" cy="275.6"/><circle cx="283.7" cy="275.9"/><circle cx="284.9" cy="276.3"/><circle cx="286.0" cy="276.7"/><circle cx="287.1" cy="277.0"/><circle cx="288.3" cy="277.4"/><circle cx="289.4" cy="277.7"/><circle cx="290.6" cy="278.1"/><circle cx="291.8" cy="278.4"/><circle cx="292.9" cy="278.7"/><circle cx="294.0" cy="279.1"/><circle cx="295.2" cy="279.4"/><circle cx="296.4" cy="279.7"/><circle cx="297.5" cy="280.1"/><circle cx="298.6" cy="280.4"/><circle cx="299.8" cy="280.7"/><circle cx="300.9" cy="281.0"/><circle cx="302.1" cy="281.3"/><circle cx="303.2" cy="281.6"/><circle cx="304.4" cy="281.9"/><circle cx="305.5" cy="282.2"/><circle cx="306.7" cy="282.5"/><circle cx="307.9" cy="282.8"/><circle cx="309.0" cy="283.1"/><circle cx="310.1" cy="283.4"/><circle cx="311.3" cy="283.7"/><circle cx="312.4" cy="283.9"/><circle cx="313.6" cy="284.2"/><circle cx="314.8" cy="284.5"/><circle cx="315.9" cy="284.8"/><circle cx="317.0" cy="285.0"/><circle cx="318.2" cy="285.3"/><circle cx="319.4" cy="285.6"/><circle cx="320.5" cy="285.8"/><circle cx="321.6" cy="286.1"/><circle cx="322.8" cy="286.3"/><circle cx="323.9" cy="286.6"/><circle cx="325.1" cy="286.8"/><circle cx="326.2" cy="287.1"/><circle cx="327.4" cy="287.3"/><circle cx="328.5" cy="287.6"/><circle cx="329.7" cy="287.8"/><circle cx="330.9" cy="288.0"/><circle cx="332.0" cy="288.3"/><circle cx="333.1" cy="288.5"/><circle cx="334.3" cy="288.7"/><circle cx="335.4" cy="289.0"/><circle cx="336.6" cy="289.2"/><circle cx="337.8" cy="289.4"/><circle cx="338.9" cy="289.6"/><circle cx="340.0" cy="289.8"/><circle cx="341.2" cy="290.0"/><circle cx="342.4" cy="290.3"/><circle cx="343.5" cy="290.5"/><circle cx="344.6" cy="290.7"/><circle cx="345.8" cy="290.9"/><circle cx="346.9" cy="291.1"/><circle cx="348.1" cy="291.3"/><circle cx="349.2" cy="291.5"/><circle cx="350.4" cy="291.7"/><circle cx="351.5" cy="291.9"/><circle cx="352.7" cy="292.1"/><circle cx="353.9" cy="292.3"/><circle cx="355.0" cy="292.5"/><circle cx="356.1" cy="292.7"/><circle cx="357.3" cy="292.8"/><circle cx="358.4" cy="293.0"/><circle cx="359.6" cy="293.2"/><circle cx="360.8" cy="293.4"/><circle cx="361.9" cy="293.6"/><circle cx="363.0" cy="293.8"/><circle cx="364.2" cy="293.9"/><circle cx="365.3" cy="294.1"/><circle cx="366.5" cy="294.3"/><circle cx="367.6" cy="294.5"/><circle cx="368.8" cy="294.6"/><circle cx="369.9" cy="294.8"/><circle cx="371.1" cy="295.0"/><circle cx="372.2" cy="295.1"/><circle cx="373.4" cy="295.3"/><circle cx="374.5" cy="295.5"/><circle cx="375.7" cy="295.6"/><circle cx="376.8" cy="295.8"/><circle cx="378.0" cy="296.0"/><circle cx="379.1" cy="296.1"/><circle cx="380.3" cy="296.3"/><circle cx="381.4" cy="296.4"/><circle cx="382.6" cy="296.6"/><circle cx="383.8" cy="296.8"/><circle cx="384.9" cy="296.9"/><circle cx="386.0" cy="297.1"/><circle cx="387.2" cy="297.2"/><circle cx="388.3" cy="297.4"/><circle cx="389.5" cy="297.5"/><circle cx="390.6" cy="297.7"/><circle cx="391.8" cy="297.8"/><circle cx="392.9" cy="298.0"/><circle cx="394.1" cy="298.1"/><circle cx="395.2" cy="298.3"/><circle cx="396.4" cy="298.4"/><circle cx="397.5" cy="298.6"/><circle cx="398.7" cy="298.7"/><circle cx="399.8" cy="298.9"/><circle cx="401.0" cy="299.0"/><circle cx="402.1" cy="299.2"/><circle cx="403.3" cy="299.3"/><circle cx="404.4" cy="299.5"/><circle cx="405.6" cy="299.6"/><circle cx="406.8" cy="299.8"/><circle cx="407.9" cy="299.9"/><circle cx="409.0" cy="300.1"/><circle cx="410.2" cy="300.2"/><circle cx="411.3" cy="300.3"/><circle cx="412.5" cy="300.5"/><circle cx="413.6" cy="300.6"/><circle cx="414.8" cy="300.8"/><circle cx="415.9" cy="300.9"/><circle cx="417.1" cy="301.1"/><circle cx="418.2" cy="301.2"/><circle cx="419.4" cy="301.4"/><circle cx="420.5" cy="301.5"/><circle cx="421.7" cy="301.7"/><circle cx="422.8" cy="301.8"/><circle cx="424.0" cy="301.9"/><circle cx="425.1" cy="302.1"/><circle cx="426.3" cy="302.2"/><circle cx="427.4" cy="302.4"/><circle cx="428.6" cy="302.5"/><circle cx="429.8" cy="302.7"/><circle cx="430.9" cy="302.8"/><circle cx="432.0" cy="303.0"/><circle cx="433.2" cy="303.1"/><circle cx="434.3" cy="303.3"/><circle cx="435.5" cy="303.4"/><circle cx="436.6" cy="303.6"/><circle cx="437.8" cy="303.8"/><circle cx="438.9" cy="303.9"/><circle cx="440.1" cy="304.1"/><circle cx="441.2" cy="304.2"/><circle cx="442.4" cy="304.4"/><circle cx="443.5" cy="304.5"/><circle cx="444.7" cy="304.7"/><circle cx="445.8" cy="304.8"/><circle cx="447.0" cy="305.0"/><circle cx="297.5" cy="283.6"/><circle cx="299.5" cy="284.6"/><circle cx="301" cy="283"/><circle cx="302.5" cy="285"/><circle cx="304" cy="284"/><circle cx="300.3" cy="282.4"/><circle cx="303.2" cy="282.6"/><circle cx="312.4" cy="284.4"/></g>
<g stroke="#808000" class="d"><circle cx="108.8" cy="222.0"/><circle cx="109.2" cy="221.3"/><circle cx="109.6" cy="220.6"/><circle cx="110.2" cy="220.1"/><circle cx="110.9" cy="219.7"/><circle cx="111.7" cy="219.6"/><circle cx="112.3" cy="220.1"/><circle cx="112.8" cy="220.7"/><circle cx="113.3" cy="221.4"/><circle cx="113.7" cy="222.1"/><circle cx="114.1" cy="222.8"/><circle cx="114.4" cy="223.5"/><circle cx="114.7" cy="224.2"/><circle cx="115.0" cy="225.0"/><circle cx="115.3" cy="225.7"/><circle cx="115.6" cy="226.5"/><circle cx="115.9" cy="227.2"/><circle cx="116.1" cy="228.0"/><circle cx="116.4" cy="228.7"/><circle cx="116.7" cy="229.4"/><circle cx="117.0" cy="230.2"/><circle cx="117.3" cy="230.9"/><circle cx="117.6" cy="231.7"/><circle cx="118.0" cy="232.4"/><circle cx="118.3" cy="233.1"/><circle cx="118.6" cy="233.8"/><circle cx="118.9" cy="234.6"/><circle cx="119.3" cy="235.3"/><circle cx="119.6" cy="236.0"/><circle cx="120.0" cy="236.7"/><circle cx="120.3" cy="237.4"/><circle cx="120.7" cy="238.2"/><circle cx="121.0" cy="238.9"/><circle cx="121.4" cy="239.6"/><circle cx="121.8" cy="240.3"/><circle cx="122.2" cy="241.0"/><circle cx="122.6" cy="241.7"/><circle cx="122.9" cy="242.4"/><circle cx="123.4" cy="243.1"/><circle cx="123.8" cy="243.7"/><circle cx="124.2" cy="244.4"/><circle cx="124.6" cy="245.1"/><circle cx="125.0" cy="245.8"/><circle cx="125.5" cy="246.4"/><circle cx="125.9" cy="247.1"/><circle cx="126.4" cy="247.7"/><circle cx="126.8" cy="248.4"/><circle cx="127.3" cy="249.0"/><circle cx="127.8" cy="249.7"/><circle cx="128.3" cy="250.3"/><circle cx="128.7" cy="251.0"/><circle cx="129.2" cy="251.6"/><circle cx="129.7" cy="252.2"/><circle cx="130.2" cy="252.8"/><circle cx="131.3" cy="254.1"/><circle cx="131.9" cy="254.8"/><circle cx="132.5" cy="255.4"/><circle cx="133.1" cy="256.1"/><circle cx="133.6" cy="256.7"/><circle cx="134.2" cy="257.3"/><circle cx="134.8" cy="257.9"/><circle cx="135.3" cy="258.5"/><circle cx="135.9" cy="259.1"/><circle cx="136.5" cy="259.7"/><circle cx="137.1" cy="260.3"/><circle cx="137.7" cy="260.8"/><circle cx="138.2" cy="261.4"/><circle cx="138.8" cy="261.9"/><circle cx="139.4" cy="262.4"/><circle cx="139.9" cy="263.0"/><circle cx="140.5" cy="263.5"/><circle cx="141.1" cy="264.0"/><circle cx="141.7" cy="264.5"/><circle cx="142.2" cy="265.0"/><circle cx="142.8" cy="265.5"/><circle cx="143.4" cy="266.0"/><circle cx="144.0" cy="266.5"/><circle cx="144.6" cy="267.0"/><circle cx="145.1" cy="267.5"/><circle cx="145.7" cy="268.0"/><circle cx="146.3" cy="268.4"/><circle cx="146.8" cy="268.9"/><circle cx="147.4" cy="269.4"/><circle cx="148.0" cy="269.8"/><circle cx="148.6" cy="270.3"/><circle cx="149.2" cy="270.7"/><circle cx="149.7" cy="271.2"/><circle cx="150.3" cy="271.6"/><circle cx="150.9" cy="272.1"/><circle cx="151.4" cy="272.5"/><circle cx="152.0" cy="272.9"/><circle cx="152.6" cy="273.3"/><circle cx="153.2" cy="273.8"/><circle cx="153.8" cy="274.2"/><circle cx="154.3" cy="274.6"/><circle cx="154.9" cy="275.0"/><circle cx="155.5" cy="275.4"/><circle cx="156.1" cy="275.8"/><circle cx="156.6" cy="276.2"/><circle cx="157.2" cy="276.6"/><circle cx="157.8" cy="277.0"/><circle cx="158.3" cy="277.3"/><circle cx="158.9" cy="277.7"/><circle cx="159.5" cy="278.1"/><circle cx="160.1" cy="278.5"/><circle cx="160.7" cy="278.8"/><circle cx="161.2" cy="279.2"/><circle cx="161.8" cy="279.5"/><circle cx="162.4" cy="279.9"/><circle cx="162.9" cy="280.2"/><circle cx="163.5" cy="280.6"/><circle cx="164.1" cy="280.9"/><circle cx="164.7" cy="281.3"/><circle cx="165.2" cy="281.6"/><circle cx="165.8" cy="281.9"/><circle cx="166.4" cy="282.2"/><circle cx="167.0" cy="282.6"/><circle cx="167.6" cy="282.9"/><circle cx="168.1" cy="283.2"/><circle cx="168.7" cy="283.5"/><circle cx="169.3" cy="283.8"/><circle cx="169.8" cy="284.1"/><circle cx="170.4" cy="284.4"/><circle cx="171.0" cy="284.7"/><circle cx="172.1" cy="285.3"/><circle cx="173.3" cy="285.9"/><circle cx="174.4" cy="286.4"/><circle cx="175.6" cy="287.0"/><circle cx="176.8" cy="287.5"/><circle cx="177.9" cy="288.0"/><circle cx="179.1" cy="288.5"/><circle cx="180.2" cy="289.0"/><circle cx="181.3" cy="289.5"/><circle cx="182.5" cy="289.9"/><circle cx="183.6" cy="290.4"/><circle cx="184.8" cy="290.8"/><circle cx="185.9" cy="291.2"/><circle cx="187.1" cy="291.6"/><circle cx="188.2" cy="292.0"/><circle cx="189.4" cy="292.4"/><circle cx="190.6" cy="292.8"/><circle cx="191.7" cy="293.2"/><circle cx="192.8" cy="293.5"/><circle cx="194.0" cy="293.9"/><circle cx="195.1" cy="294.2"/><circle cx="196.3" cy="294.5"/><circle cx="197.4" cy="294.9"/><circle cx="198.6" cy="295.2"/><circle cx="199.8" cy="295.5"/><circle cx="200.9" cy="295.7"/><circle cx="202.1" cy="296.0"/><circle cx="203.2" cy="296.3"/><circle cx="204.3" cy="296.5"/><circle cx="205.5" cy="296.8"/><circle cx="206.6" cy="297.0"/><circle cx="207.8" cy="297.3"/><circle cx="208.9" cy="297.5"/><circle cx="210.1" cy="297.7"/><circle cx="211.2" cy="297.9"/><circle cx="212.4" cy="298.1"/><circle cx="213.6" cy="298.3"/><circle cx="214.7" cy="298.5"/><circle cx="215.8" cy="298.7"/><circle cx="217.0" cy="298.9"/><circle cx="218.1" cy="299.0"/><circle cx="219.3" cy="299.2"/><circle cx="220.4" cy="299.3"/><circle cx="221.6" cy="299.5"/><circle cx="222.8" cy="299.6"/><circle cx="223.9" cy="299.8"/><circle cx="225.1" cy="299.9"/><circle cx="226.2" cy="300.0"/><circle cx="227.3" cy="300.1"/><circle cx="228.5" cy="300.3"/><circle cx="229.6" cy="300.4"/><circle cx="230.8" cy="300.5"/><circle cx="231.9" cy="300.6"/><circle cx="233.1" cy="300.7"/><circle cx="234.2" cy="300.8"/><circle cx="235.4" cy="300.9"/><circle cx="236.5" cy="300.9"/><circle cx="237.7" cy="301.0"/><circle cx="238.8" cy="301.1"/><circle cx="240.0" cy="301.2"/><circle cx="241.1" cy="301.3"/><circle cx="242.3" cy="301.3"/><circle cx="243.4" cy="301.4"/><circle cx="244.6" cy="301.5"/><circle cx="245.8" cy="301.5"/><circle cx="246.9" cy="301.6"/><circle cx="248.0" cy="301.7"/><circle cx="249.2" cy="301.7"/><circle cx="250.3" cy="301.8"/><circle cx="251.5" cy="301.8"/><circle cx="252.6" cy="301.9"/><circle cx="253.8" cy="301.9"/><circle cx="254.9" cy="302.0"/><circle cx="256.1" cy="302.0"/><circle cx="257.2" cy="302.1"/><circle cx="258.4" cy="302.1"/><circle cx="259.5" cy="302.1"/><circle cx="260.7" cy="302.2"/><circle cx="261.9" cy="302.2"/><circle cx="263.0" cy="302.2"/><circle cx="264.1" cy="302.1"/><circle cx="265.3" cy="302.1"/><circle cx="266.4" cy="302.0"/><circle cx="267.6" cy="302.0"/><circle cx="268.8" cy="301.9"/><circle cx="269.9" cy="301.8"/><circle cx="271.0" cy="301.6"/><circle cx="272.2" cy="301.5"/><circle cx="273.4" cy="301.3"/><circle cx="274.5" cy="301.1"/><circle cx="275.6" cy="300.8"/><circle cx="276.8" cy="300.5"/><circle cx="277.9" cy="300.2"/><circle cx="279.1" cy="299.9"/><circle cx="280.2" cy="299.5"/><circle cx="281.4" cy="299.1"/><circle cx="282.5" cy="298.7"/><circle cx="283.7" cy="298.2"/><circle cx="284.9" cy="297.7"/><circle cx="286.0" cy="297.2"/><circle cx="287.1" cy="296.6"/><circle cx="288.3" cy="296.0"/><circle cx="289.4" cy="295.5"/><circle cx="290.6" cy="294.9"/><circle cx="291.8" cy="294.3"/><circle cx="292.9" cy="293.7"/><circle cx="294.0" cy="293.1"/><circle cx="295.2" cy="292.5"/><circle cx="296.4" cy="291.9"/><circle cx="297.5" cy="291.3"/><circle cx="298.6" cy="290.8"/><circle cx="299.8" cy="290.2"/><circle cx="300.9" cy="289.7"/><circle cx="302.1" cy="289.3"/><circle cx="303.2" cy="288.8"/><circle cx="304.4" cy="288.5"/><circle cx="305.5" cy="288.1"/><circle cx="306.7" cy="287.8"/><circle cx="307.9" cy="287.6"/><circle cx="309.0" cy="287.4"/><circle cx="310.1" cy="287.3"/><circle cx="311.3" cy="287.2"/><circle cx="312.4" cy="287.2"/><circle cx="313.6" cy="287.3"/><circle cx="314.8" cy="287.3"/><circle cx="315.9" cy="287.5"/><circle cx="317.0" cy="287.6"/><circle cx="318.2" cy="287.8"/><circle cx="319.4" cy="287.9"/><circle cx="320.5" cy="288.1"/><circle cx="321.6" cy="288.3"/><circle cx="322.8" cy="288.5"/><circle cx="323.9" cy="288.7"/><circle cx="325.1" cy="288.9"/><circle cx="326.2" cy="289.0"/><circle cx="327.4" cy="289.2"/><circle cx="328.5" cy="289.4"/><circle cx="329.7" cy="289.5"/><circle cx="330.9" cy="289.7"/><circle cx="332.0" cy="289.9"/><circle cx="333.1" cy="290.0"/><circle cx="334.3" cy="290.2"/><circle cx="335.4" cy="290.3"/><circle cx="336.6" cy="290.5"/><circle cx="337.8" cy="290.6"/><circle cx="338.9" cy="290.8"/><circle cx="340.0" cy="290.9"/><circle cx="341.2" cy="291.1"/><circle cx="342.4" cy="291.3"/><circle cx="343.5" cy="291.4"/><circle cx="344.6" cy="291.6"/><circle cx="345.8" cy="291.8"/><circle cx="346.9" cy="291.9"/><circle cx="348.1" cy="292.1"/><circle cx="349.2" cy="292.3"/><circle cx="350.4" cy="292.4"/><circle cx="351.5" cy="292.6"/><circle cx="352.7" cy="292.8"/><circle cx="353.9" cy="293.0"/><circle cx="355.0" cy="293.1"/><circle cx="356.1" cy="293.3"/><circle cx="357.3" cy="293.5"/><circle cx="358.4" cy="293.6"/><circle cx="359.6" cy="293.8"/><circle cx="360.8" cy="294.0"/><circle cx="361.9" cy="294.2"/><circle cx="363.0" cy="294.4"/><circle cx="364.2" cy="294.5"/><circle cx="365.3" cy="294.7"/><circle cx="366.5" cy="294.9"/><circle cx="367.6" cy="295.1"/><circle cx="368.8" cy="295.2"/><circle cx="369.9" cy="295.4"/><circle cx="371.1" cy="295.6"/><circle cx="372.2" cy="295.8"/><circle cx="373.4" cy="296.0"/><circle cx="374.5" cy="296.1"/><circle cx="375.7" cy="296.3"/><circle cx="376.8" cy="296.5"/><circle cx="378.0" cy="296.7"/><circle cx="379.1" cy="296.8"/><circle cx="380.3" cy="297.0"/><circle cx="381.4" cy="297.2"/><circle cx="382.6" cy="297.4"/><circle cx="383.8" cy="297.6"/><circle cx="384.9" cy="297.7"/><circle cx="386.0" cy="297.9"/><circle cx="387.2" cy="298.1"/><circle cx="388.3" cy="298.3"/><circle cx="389.5" cy="298.4"/><circle cx="390.6" cy="298.6"/><circle cx="391.8" cy="298.8"/><circle cx="392.9" cy="299.0"/><circle cx="394.1" cy="299.1"/><circle cx="395.2" cy="299.3"/><circle cx="396.4" cy="299.5"/><circle cx="397.5" cy="299.6"/><circle cx="398.7" cy="299.8"/><circle cx="399.8" cy="300.0"/><circle cx="401.0" cy="300.1"/><circle cx="402.1" cy="300.3"/><circle cx="403.3" cy="300.5"/><circle cx="404.4" cy="300.6"/><circle cx="405.6" cy="300.8"/><circle cx="406.8" cy="300.9"/><circle cx="407.9" cy="301.1"/><circle cx="409.0" cy="301.2"/><circle cx="410.2" cy="301.4"/><circle cx="411.3" cy="301.6"/><circle cx="412.5" cy="301.7"/><circle cx="413.6" cy="301.9"/><circle cx="414.8" cy="302.0"/><circle cx="415.9" cy="302.2"/><circle cx="417.1" cy="302.3"/><circle cx="418.2" cy="302.4"/><circle cx="419.4" cy="302.6"/><circle cx="420.5" cy="302.7"/><circle cx="421.7" cy="302.9"/><circle cx="422.8" cy="303.0"/><circle cx="424.0" cy="303.1"/><circle cx="425.1" cy="303.3"/><circle cx="426.3" cy="303.4"/><circle cx="427.4" cy="303.5"/><circle cx="428.6" cy="303.6"/><circle cx="429.8" cy="303.8"/><circle cx="430.9" cy="303.9"/><circle cx="432.0" cy="304.0"/><circle cx="433.2" cy="304.1"/><circle cx="434.3" cy="304.2"/><circle cx="435.5" cy="304.3"/><circle cx="436.6" cy="304.4"/><circle cx="437.8" cy="304.6"/><circle cx="438.9" cy="304.7"/><circle cx="440.1" cy="304.8"/><circle cx="441.2" cy="304.9"/><circle cx="442.4" cy="304.9"/><circle cx="443.5" cy="305.0"/><circle cx="444.7" cy="305.1"/><circle cx="445.8" cy="305.2"/><circle cx="447.0" cy="305.3"/></g>
<g stroke="#800080" class="d"><circle cx="110.7" cy="271.6"/><circle cx="111.3" cy="271.1"/><circle cx="112.0" cy="270.8"/><circle cx="112.8" cy="271.0"/><circle cx="113.5" cy="271.3"/><circle cx="114.2" cy="271.7"/><circle cx="114.8" cy="272.2"/><circle cx="115.4" cy="272.8"/><circle cx="115.8" cy="273.4"/><circle cx="116.3" cy="274.1"/><circle cx="116.7" cy="274.7"/><circle cx="117.1" cy="275.4"/><circle cx="117.6" cy="276.1"/><circle cx="118.1" cy="276.7"/><circle cx="118.7" cy="277.3"/><circle cx="119.2" cy="277.8"/><circle cx="119.7" cy="278.4"/><circle cx="120.3" cy="279.0"/><circle cx="120.8" cy="279.6"/><circle cx="121.4" cy="280.2"/><circle cx="121.9" cy="280.7"/><circle cx="122.5" cy="281.3"/><circle cx="123.0" cy="281.9"/><circle cx="123.6" cy="282.4"/><circle cx="124.2" cy="283.0"/><circle cx="124.8" cy="283.5"/><circle cx="125.3" cy="284.1"/><circle cx="125.9" cy="284.6"/><circle cx="126.5" cy="285.2"/><circle cx="127.1" cy="285.7"/><circle cx="127.7" cy="286.2"/><circle cx="128.3" cy="286.7"/><circle cx="128.9" cy="287.2"/><circle cx="129.5" cy="287.8"/><circle cx="130.1" cy="288.3"/><circle cx="131.3" cy="289.2"/><circle cx="131.9" cy="289.7"/><circle cx="132.5" cy="290.1"/><circle cx="133.1" cy="290.5"/><circle cx="133.6" cy="291.0"/><circle cx="134.2" cy="291.4"/><circle cx="134.8" cy="291.8"/><circle cx="135.3" cy="292.2"/><circle cx="135.9" cy="292.6"/><circle cx="136.5" cy="293.0"/><circle cx="137.1" cy="293.4"/><circle cx="137.7" cy="293.8"/><circle cx="138.2" cy="294.1"/><circle cx="138.8" cy="294.5"/><circle cx="139.4" cy="294.9"/><circle cx="139.9" cy="295.2"/><circle cx="140.5" cy="295.6"/><circle cx="141.1" cy="295.9"/><circle cx="141.7" cy="296.2"/><circle cx="142.2" cy="296.6"/><circle cx="142.8" cy="296.9"/><circle cx="143.4" cy="297.2"/><circle cx="144.0" cy="297.5"/><circle cx="144.6" cy="297.8"/><circle cx="145.1" cy="298.1"/><circle cx="145.7" cy="298.4"/><circle cx="146.3" cy="298.7"/><circle cx="146.8" cy="299.0"/><circle cx="147.4" cy="299.2"/><circle cx="148.0" cy="299.5"/><circle cx="148.6" cy="299.8"/><circle cx="149.2" cy="300.0"/><circle cx="149.7" cy="300.3"/><circle cx="150.3" cy="300.5"/><circle cx="150.9" cy="300.8"/><circle cx="151.4" cy="301.0"/><circle cx="152.0" cy="301.3"/><circle cx="152.6" cy="301.5"/><circle cx="153.2" cy="301.7"/><circle cx="153.8" cy="301.9"/><circle cx="154.3" cy="302.2"/><circle cx="154.9" cy="302.4"/><circle cx="155.5" cy="302.6"/><circle cx="156.1" cy="302.8"/><circle cx="156.6" cy="303.0"/><circle cx="157.2" cy="303.2"/><circle cx="157.8" cy="303.4"/><circle cx="158.3" cy="303.6"/><circle cx="158.9" cy="303.8"/><circle cx="159.5" cy="304.0"/><circle cx="160.1" cy="304.1"/><circle cx="160.7" cy="304.3"/><circle cx="161.2" cy="304.5"/><circle cx="161.8" cy="304.7"/><circle cx="162.4" cy="304.8"/><circle cx="162.9" cy="305.0"/><circle cx="163.5" cy="305.1"/><circle cx="164.1" cy="305.3"/><circle cx="164.7" cy="305.5"/><circle cx="165.2" cy="305.6"/><circle cx="165.8" cy="305.8"/><circle cx="166.4" cy="305.9"/><circle cx="167.0" cy="306.1"/><circle cx="167.6" cy="306.2"/><circle cx="168.1" cy="306.3"/><circle cx="168.7" cy="306.5"/><circle cx="169.3" cy="306.6"/><circle cx="169.8" cy="306.7"/><circle cx="170.4" cy="306.9"/><circle cx="171.0" cy="307.0"/><circle cx="172.1" cy="307.3"/><circle cx="173.3" cy="307.5"/><circle cx="174.4" cy="307.8"/><circle cx="175.6" cy="308.0"/><circle cx="176.8" cy="308.2"/><circle cx="177.9" cy="308.5"/><circle cx="179.1" cy="308.7"/><circle cx="180.2" cy="308.9"/><circle cx="181.3" cy="309.1"/><circle cx="182.5" cy="309.3"/><circle cx="183.6" cy="309.5"/><circle cx="184.8" cy="309.7"/><circle cx="185.9" cy="309.9"/><circle cx="187.1" cy="310.1"/><circle cx="188.2" cy="310.3"/><circle cx="189.4" cy="310.5"/><circle cx="190.6" cy="310.7"/><circle cx="191.7" cy="310.9"/><circle cx="192.8" cy="311.1"/><circle cx="194.0" cy="311.2"/><circle cx="195.1" cy="311.4"/><circle cx="196.3" cy="311.6"/><circle cx="197.4" cy="311.7"/><circle cx="198.6" cy="311.9"/><circle cx="199.8" cy="312.0"/><circle cx="200.9" cy="312.2"/><circle cx="202.1" cy="312.3"/><circle cx="203.2" cy="312.5"/><circle cx="204.3" cy="312.6"/><circle cx="205.5" cy="312.8"/><circle cx="206.6" cy="312.9"/><circle cx="207.8" cy="313.0"/><circle cx="208.9" cy="313.2"/><circle cx="210.1" cy="313.3"/><circle cx="211.2" cy="313.4"/><circle cx="212.4" cy="313.5"/><circle cx="213.6" cy="313.6"/><circle cx="214.7" cy="313.8"/><circle cx="215.8" cy="313.9"/><circle cx="217.0" cy="314.0"/><circle cx="218.1" cy="314.1"/><circle cx="219.3" cy="314.2"/><circle cx="220.4" cy="314.3"/><circle cx="221.6" cy="314.4"/><circle cx="222.8" cy="314.5"/><circle cx="223.9" cy="314.6"/><circle cx="225.1" cy="314.7"/><circle cx="226.2" cy="314.8"/><circle cx="227.3" cy="314.8"/><circle cx="228.5" cy="314.9"/><circle cx="229.6" cy="315.0"/><circle cx="230.8" cy="315.1"/><circle cx="231.9" cy="315.2"/><circle cx="233.1" cy="315.2"/><circle cx="234.2" cy="315.3"/><circle cx="235.4" cy="315.4"/><circle cx="236.5" cy="315.5"/><circle cx="237.7" cy="315.5"/><circle cx="238.8" cy="315.6"/><circle cx="240.0" cy="315.6"/><circle cx="241.1" cy="315.7"/><circle cx="242.3" cy="315.8"/><circle cx="243.4" cy="315.8"/><circle cx="244.6" cy="315.9"/><circle cx="245.8" cy="315.9"/><circle cx="246.9" cy="316.0"/><circle cx="248.0" cy="316.0"/><circle cx="249.2" cy="316.1"/><circle cx="250.3" cy="316.1"/><circle cx="251.5" cy="316.2"/><circle cx="252.6" cy="316.2"/><circle cx="253.8" cy="316.3"/><circle cx="254.9" cy="316.3"/><circle cx="256.1" cy="316.3"/><circle cx="257.2" cy="316.4"/><circle cx="258.4" cy="316.4"/><circle cx="259.5" cy="316.4"/><circle cx="260.7" cy="316.5"/><circle cx="261.9" cy="316.5"/><circle cx="263.0" cy="316.5"/><circle cx="264.1" cy="316.5"/><circle cx="265.3" cy="316.6"/><circle cx="266.4" cy="316.6"/><circle cx="267.6" cy="316.6"/><circle cx="268.8" cy="316.6"/><circle cx="269.9" cy="316.6"/><circle cx="271.0" cy="316.6"/><circle cx="272.2" cy="316.6"/><circle cx="273.4" cy="316.6"/><circle cx="274.5" cy="316.5"/><circle cx="275.6" cy="316.5"/><circle cx="276.8" cy="316.5"/><circle cx="277.9" cy="316.5"/><circle cx="279.1" cy="316.4"/><circle cx="280.2" cy="316.4"/><circle cx="281.4" cy="316.3"/><circle cx="282.5" cy="316.3"/><circle cx="283.7" cy="316.2"/><circle cx="284.9" cy="316.2"/><circle cx="286.0" cy="316.1"/><circle cx="287.1" cy="316.0"/><circle cx="288.3" cy="315.9"/><circle cx="289.4" cy="315.8"/><circle cx="290.6" cy="315.7"/><circle cx="291.8" cy="315.6"/><circle cx="292.9" cy="315.5"/><circle cx="294.0" cy="315.4"/><circle cx="295.2" cy="315.3"/><circle cx="296.4" cy="315.1"/><circle cx="297.5" cy="315.0"/><circle cx="298.6" cy="314.8"/><circle cx="299.8" cy="314.7"/><circle cx="300.9" cy="314.5"/><circle cx="302.1" cy="314.3"/><circle cx="303.2" cy="314.1"/><circle cx="304.4" cy="314.0"/><circle cx="305.5" cy="313.7"/><circle cx="306.7" cy="313.5"/><circle cx="307.9" cy="313.3"/><circle cx="309.0" cy="313.1"/><circle cx="310.1" cy="312.8"/><circle cx="311.3" cy="312.6"/><circle cx="312.4" cy="312.3"/><circle cx="313.6" cy="312.1"/><circle cx="314.8" cy="311.8"/><circle cx="315.9" cy="311.5"/><circle cx="317.0" cy="311.2"/><circle cx="318.2" cy="310.9"/><circle cx="319.4" cy="310.5"/><circle cx="320.5" cy="310.2"/><circle cx="321.6" cy="309.8"/><circle cx="322.8" cy="309.4"/><circle cx="323.9" cy="309.0"/><circle cx="325.1" cy="308.6"/><circle cx="326.2" cy="308.1"/><circle cx="327.4" cy="307.6"/><circle cx="328.5" cy="307.1"/><circle cx="329.7" cy="306.6"/><circle cx="330.9" cy="306.1"/><circle cx="332.0" cy="305.5"/><circle cx="333.1" cy="304.8"/><circle cx="334.3" cy="304.2"/><circle cx="335.4" cy="303.5"/><circle cx="336.6" cy="302.8"/><circle cx="337.8" cy="302.0"/><circle cx="338.9" cy="301.3"/><circle cx="340.0" cy="300.5"/><circle cx="341.2" cy="299.8"/><circle cx="342.4" cy="299.1"/><circle cx="343.5" cy="298.4"/><circle cx="344.6" cy="297.9"/><circle cx="345.8" cy="297.5"/><circle cx="346.9" cy="297.2"/><circle cx="348.1" cy="296.9"/><circle cx="349.2" cy="296.8"/><circle cx="350.4" cy="296.7"/><circle cx="351.5" cy="296.7"/><circle cx="352.7" cy="296.7"/><circle cx="353.9" cy="296.8"/><circle cx="355.0" cy="296.8"/><circle cx="356.1" cy="296.9"/><circle cx="357.3" cy="297.0"/><circle cx="358.4" cy="297.0"/><circle cx="359.6" cy="297.1"/><circle cx="360.8" cy="297.2"/><circle cx="361.9" cy="297.3"/><circle cx="363.0" cy="297.4"/><circle cx="364.2" cy="297.4"/><circle cx="365.3" cy="297.5"/><circle cx="366.5" cy="297.6"/><circle cx="367.6" cy="297.7"/><circle cx="368.8" cy="297.8"/><circle cx="369.9" cy="297.9"/><circle cx="371.1" cy="298.0"/><circle cx="372.2" cy="298.1"/><circle cx="373.4" cy="298.2"/><circle cx="374.5" cy="298.3"/><circle cx="375.7" cy="298.4"/><circle cx="376.8" cy="298.5"/><circle cx="378.0" cy="298.6"/><circle cx="379.1" cy="298.7"/><circle cx="380.3" cy="298.8"/><circle cx="381.4" cy="299.0"/><circle cx="382.6" cy="299.1"/><circle cx="383.8" cy="299.2"/><circle cx="384.9" cy="299.3"/><circle cx="386.0" cy="299.4"/><circle cx="387.2" cy="299.5"/><circle cx="388.3" cy="299.7"/><circle cx="389.5" cy="299.8"/><circle cx="390.6" cy="299.9"/><circle cx="391.8" cy="300.0"/><circle cx="392.9" cy="300.1"/><circle cx="394.1" cy="300.3"/><circle cx="395.2" cy="300.4"/><circle cx="396.4" cy="300.5"/><circle cx="397.5" cy="300.6"/><circle cx="398.7" cy="300.8"/><circle cx="399.8" cy="300.9"/><circle cx="401.0" cy="301.0"/><circle cx="402.1" cy="301.1"/><circle cx="403.3" cy="301.3"/><circle cx="404.4" cy="301.4"/><circle cx="405.6" cy="301.5"/><circle cx="406.8" cy="301.6"/><circle cx="407.9" cy="301.8"/><circle cx="409.0" cy="301.9"/><circle cx="410.2" cy="302.0"/><circle cx="411.3" cy="302.1"/><circle cx="412.5" cy="302.3"/><circle cx="413.6" cy="302.4"/><circle cx="414.8" cy="302.5"/><circle cx="415.9" cy="302.6"/><circle cx="417.1" cy="302.8"/><circle cx="418.2" cy="302.9"/><circle cx="419.4" cy="303.0"/><circle cx="420.5" cy="303.1"/><circle cx="421.7" cy="303.2"/><circle cx="422.8" cy="303.4"/><circle cx="424.0" cy="303.5"/><circle cx="425.1" cy="303.6"/><circle cx="426.3" cy="303.7"/><circle cx="427.4" cy="303.8"/><circle cx="428.6" cy="304.0"/><circle cx="429.8" cy="304.1"/><circle cx="430.9" cy="304.2"/><circle cx="432.0" cy="304.3"/><circle cx="433.2" cy="304.4"/><circle cx="434.3" cy="304.5"/><circle cx="435.5" cy="304.6"/><circle cx="436.6" cy="304.7"/><circle cx="437.8" cy="304.8"/><circle cx="438.9" cy="304.9"/><circle cx="440.1" cy="305.0"/><circle cx="441.2" cy="305.1"/><circle cx="442.4" cy="305.2"/><circle cx="443.5" cy="305.3"/><circle cx="444.7" cy="305.4"/><circle cx="445.8" cy="305.5"/><circle cx="447.0" cy="305.6"/></g>
<g stroke="#ff8000" class="d"><circle cx="115.5" cy="302.0"/><circle cx="116.1" cy="302.5"/><circle cx="116.6" cy="303.1"/><circle cx="117.2" cy="303.6"/><circle cx="117.8" cy="304.1"/><circle cx="118.3" cy="304.6"/><circle cx="118.9" cy="305.1"/><circle cx="119.5" cy="305.6"/><circle cx="120.1" cy="306.1"/><circle cx="120.8" cy="306.6"/><circle cx="121.4" cy="307.0"/><circle cx="122.0" cy="307.5"/><circle cx="122.7" cy="307.9"/><circle cx="123.3" cy="308.3"/><circle cx="124.0" cy="308.8"/><circle cx="124.6" cy="309.2"/><circle cx="125.3" cy="309.6"/><circle cx="126.0" cy="309.9"/><circle cx="126.7" cy="310.3"/><circle cx="127.3" cy="310.7"/><circle cx="128.0" cy="311.1"/><circle cx="128.7" cy="311.5"/><circle cx="129.4" cy="311.8"/><circle cx="130.1" cy="312.2"/><circle cx="131.3" cy="312.8"/><circle cx="131.9" cy="313.1"/><circle cx="132.5" cy="313.4"/><circle cx="133.1" cy="313.6"/><circle cx="133.6" cy="313.9"/><circle cx="134.2" cy="314.1"/><circle cx="134.8" cy="314.3"/><circle cx="135.3" cy="314.5"/><circle cx="135.9" cy="314.7"/><circle cx="136.5" cy="314.9"/><circle cx="137.1" cy="315.1"/><circle cx="137.7" cy="315.3"/><circle cx="138.2" cy="315.5"/><circle cx="138.8" cy="315.6"/><circle cx="139.4" cy="315.8"/><circle cx="139.9" cy="316.0"/><circle cx="140.5" cy="316.1"/><circle cx="141.1" cy="316.3"/><circle cx="141.7" cy="316.4"/><circle cx="142.2" cy="316.6"/><circle cx="142.8" cy="316.7"/><circle cx="143.4" cy="316.8"/><circle cx="144.0" cy="317.0"/><circle cx="144.6" cy="317.1"/><circle cx="145.1" cy="317.2"/><circle cx="145.7" cy="317.4"/><circle cx="146.3" cy="317.5"/><circle cx="146.8" cy="317.6"/><circle cx="147.4" cy="317.7"/><circle cx="148.0" cy="317.8"/><circle cx="148.6" cy="317.9"/><circle cx="149.2" cy="318.0"/><circle cx="149.7" cy="318.1"/><circle cx="150.3" cy="318.3"/><circle cx="150.9" cy="318.4"/><circle cx="151.4" cy="318.5"/><circle cx="152.0" cy="318.6"/><circle cx="152.6" cy="318.7"/><circle cx="153.2" cy="318.8"/><circle cx="153.8" cy="318.9"/><circle cx="154.3" cy="319.0"/><circle cx="154.9" cy="319.2"/><circle cx="155.5" cy="319.3"/><circle cx="156.1" cy="319.4"/><circle cx="156.6" cy="319.5"/><circle cx="157.2" cy="319.6"/><circle cx="157.8" cy="319.7"/><circle cx="158.3" cy="319.8"/><circle cx="158.9" cy="319.9"/><circle cx="159.5" cy="319.9"/><circle cx="160.1" cy="320.0"/><circle cx="160.7" cy="320.1"/><circle cx="161.2" cy="320.2"/><circle cx="161.8" cy="320.3"/><circle cx="162.4" cy="320.4"/><circle cx="162.9" cy="320.4"/><circle cx="163.5" cy="320.5"/><circle cx="164.1" cy="320.6"/><circle cx="164.7" cy="320.7"/><circle cx="165.2" cy="320.7"/><circle cx="165.8" cy="320.8"/><circle cx="166.4" cy="320.9"/><circle cx="167.0" cy="321.0"/><circle cx="167.6" cy="321.0"/><circle cx="168.1" cy="321.1"/><circle cx="168.7" cy="321.2"/><circle cx="169.3" cy="321.2"/><circle cx="169.8" cy="321.3"/><circle cx="170.4" cy="321.4"/><circle cx="171.0" cy="321.4"/><circle cx="172.1" cy="321.6"/><circle cx="173.3" cy="321.7"/><circle cx="174.4" cy="321.8"/><circle cx="175.6" cy="321.9"/><circle cx="176.8" cy="322.0"/><circle cx="177.9" cy="322.0"/><circle cx="179.1" cy="322.1"/><circle cx="180.2" cy="322.1"/><circle cx="181.3" cy="322.2"/><circle cx="182.5" cy="322.2"/><circle cx="183.6" cy="322.3"/><circle cx="184.8" cy="322.3"/><circle cx="185.9" cy="322.4"/><circle cx="187.1" cy="322.4"/><circle cx="188.2" cy="322.4"/><circle cx="189.4" cy="322.5"/><circle cx="190.6" cy="322.5"/><circle cx="191.7" cy="322.6"/><circle cx="192.8" cy="322.6"/><circle cx="194.0" cy="322.6"/><circle cx="195.1" cy="322.7"/><circle cx="196.3" cy="322.7"/><circle cx="197.4" cy="322.7"/><circle cx="198.6" cy="322.8"/><circle cx="199.8" cy="322.8"/><circle cx="200.9" cy="322.8"/><circle cx="202.1" cy="322.8"/><circle cx="203.2" cy="322.8"/><circle cx="204.3" cy="322.8"/><circle cx="205.5" cy="322.8"/><circle cx="206.6" cy="322.8"/><circle cx="207.8" cy="322.8"/><circle cx="208.9" cy="322.8"/><circle cx="210.1" cy="322.8"/><circle cx="211.2" cy="322.9"/><circle cx="212.4" cy="322.9"/><circle cx="213.6" cy="322.9"/><circle cx="214.7" cy="322.9"/><circle cx="215.8" cy="322.9"/><circle cx="217.0" cy="322.9"/><circle cx="218.1" cy="322.9"/><circle cx="219.3" cy="322.9"/><circle cx="220.4" cy="322.9"/><circle cx="221.6" cy="322.9"/><circle cx="222.8" cy="322.9"/><circle cx="223.9" cy="322.9"/><circle cx="225.1" cy="322.9"/><circle cx="226.2" cy="322.9"/><circle cx="227.3" cy="322.9"/><circle cx="228.5" cy="322.9"/><circle cx="229.6" cy="322.9"/><circle cx="230.8" cy="322.9"/><circle cx="231.9" cy="322.9"/><circle cx="233.1" cy="322.9"/><circle cx="234.2" cy="322.9"/><circle cx="235.4" cy="322.9"/><circle cx="236.5" cy="322.9"/><circle cx="237.7" cy="322.9"/><circle cx="238.8" cy="322.9"/><circle cx="240.0" cy="322.9"/><circle cx="241.1" cy="322.9"/><circle cx="242.3" cy="322.9"/><circle cx="243.4" cy="322.9"/><circle cx="244.6" cy="322.9"/><circle cx="245.8" cy="322.9"/><circle cx="246.9" cy="322.9"/><circle cx="248.0" cy="322.9"/><circle cx="249.2" cy="322.9"/><circle cx="250.3" cy="322.9"/><circle cx="251.5" cy="322.9"/><circle cx="252.6" cy="322.9"/><circle cx="253.8" cy="322.9"/><circle cx="254.9" cy="322.9"/><circle cx="256.1" cy="322.9"/><circle cx="257.2" cy="322.9"/><circle cx="258.4" cy="322.9"/><circle cx="259.5" cy="322.9"/><circle cx="260.7" cy="322.9"/><circle cx="261.9" cy="322.9"/><circle cx="263.0" cy="322.9"/><circle cx="264.1" cy="322.9"/><circle cx="265.3" cy="322.9"/><circle cx="266.4" cy="322.9"/><circle cx="267.6" cy="322.9"/><circle cx="268.8" cy="322.9"/><circle cx="269.9" cy="322.9"/><circle cx="271.0" cy="322.9"/><circle cx="272.2" cy="322.9"/><circle cx="273.4" cy="322.9"/><circle cx="274.5" cy="322.9"/><circle cx="275.6" cy="322.9"/><circle cx="276.8" cy="322.9"/><circle cx="277.9" cy="322.9"/><circle cx="279.1" cy="322.9"/><circle cx="280.2" cy="322.9"/><circle cx="281.4" cy="322.9"/><circle cx="282.5" cy="322.9"/><circle cx="283.7" cy="322.9"/><circle cx="284.9" cy="322.9"/><circle cx="286.0" cy="322.9"/><circle cx="287.1" cy="322.9"/><circle cx="288.3" cy="322.9"/><circle cx="289.4" cy="322.9"/><circle cx="290.6" cy="322.9"/><circle cx="291.8" cy="322.9"/><circle cx="292.9" cy="322.9"/><circle cx="294.0" cy="322.9"/><circle cx="295.2" cy="322.9"/><circle cx="296.4" cy="322.9"/><circle cx="297.5" cy="322.9"/><circle cx="298.6" cy="322.9"/><circle cx="299.8" cy="322.9"/><circle cx="300.9" cy="322.9"/><circle cx="302.1" cy="322.9"/><circle cx="303.2" cy="322.8"/><circle cx="304.4" cy="322.8"/><circle cx="305.5" cy="322.8"/><circle cx="306.7" cy="322.8"/><circle cx="307.9" cy="322.8"/><circle cx="309.0" cy="322.8"/><circle cx="310.1" cy="322.8"/><circle cx="311.3" cy="322.8"/><circle cx="312.4" cy="322.8"/><circle cx="313.6" cy="322.8"/><circle cx="314.8" cy="322.8"/><circle cx="315.9" cy="322.7"/><circle cx="317.0" cy="322.7"/><circle cx="318.2" cy="322.7"/><circle cx="319.4" cy="322.7"/><circle cx="320.5" cy="322.7"/><circle cx="321.6" cy="322.7"/><circle cx="322.8" cy="322.7"/><circle cx="323.9" cy="322.7"/><circle cx="325.1" cy="322.6"/><circle cx="326.2" cy="322.6"/><circle cx="327.4" cy="322.6"/><circle cx="328.5" cy="322.6"/><circle cx="329.7" cy="322.6"/><circle cx="330.9" cy="322.6"/><circle cx="332.0" cy="322.5"/><circle cx="333.1" cy="322.5"/><circle cx="334.3" cy="322.5"/><circle cx="335.4" cy="322.5"/><circle cx="336.6" cy="322.5"/><circle cx="337.8" cy="322.5"/><circle cx="338.9" cy="322.4"/><circle cx="340.0" cy="322.4"/><circle cx="341.2" cy="322.4"/><circle cx="342.4" cy="322.4"/><circle cx="343.5" cy="322.3"/><circle cx="344.6" cy="322.3"/><circle cx="345.8" cy="322.3"/><circle cx="346.9" cy="322.3"/><circle cx="348.1" cy="322.2"/><circle cx="349.2" cy="322.2"/><circle cx="350.4" cy="322.2"/><circle cx="351.5" cy="322.2"/><circle cx="352.7" cy="322.1"/><circle cx="353.9" cy="322.1"/><circle cx="355.0" cy="322.1"/><circle cx="356.1" cy="322.0"/><circle cx="357.3" cy="322.0"/><circle cx="358.4" cy="322.0"/><circle cx="359.6" cy="321.9"/><circle cx="360.8" cy="321.9"/><circle cx="361.9" cy="321.8"/><circle cx="363.0" cy="321.8"/><circle cx="364.2" cy="321.8"/><circle cx="365.3" cy="321.7"/><circle cx="366.5" cy="321.7"/><circle cx="367.6" cy="321.6"/><circle cx="368.8" cy="321.6"/><circle cx="369.9" cy="321.5"/><circle cx="371.1" cy="321.5"/><circle cx="372.2" cy="321.4"/><circle cx="373.4" cy="321.2"/><circle cx="374.5" cy="321.0"/><circle cx="375.7" cy="320.8"/><circle cx="376.8" cy="320.5"/><circle cx="378.0" cy="320.1"/><circle cx="379.1" cy="319.5"/><circle cx="380.3" cy="318.5"/><circle cx="381.4" cy="316.6"/><circle cx="382.6" cy="314.4"/><circle cx="383.8" cy="311.8"/><circle cx="384.9" cy="309.2"/><circle cx="386.0" cy="306.9"/><circle cx="387.2" cy="305.1"/><circle cx="388.3" cy="303.8"/><circle cx="389.5" cy="302.9"/><circle cx="390.6" cy="302.6"/><circle cx="391.8" cy="302.5"/><circle cx="392.9" cy="302.5"/><circle cx="394.1" cy="302.5"/><circle cx="395.2" cy="302.6"/><circle cx="396.4" cy="302.7"/><circle cx="397.5" cy="302.8"/><circle cx="398.7" cy="302.9"/><circle cx="399.8" cy="303.0"/><circle cx="401.0" cy="303.1"/><circle cx="402.1" cy="303.2"/><circle cx="403.3" cy="303.3"/><circle cx="404.4" cy="303.4"/><circle cx="405.6" cy="303.5"/><circle cx="406.8" cy="303.6"/><circle cx="407.9" cy="303.7"/><circle cx="409.0" cy="303.8"/><circle cx="410.2" cy="303.9"/><circle cx="411.3" cy="304.0"/><circle cx="412.5" cy="304.1"/><circle cx="413.6" cy="304.2"/><circle cx="414.8" cy="304.3"/><circle cx="415.9" cy="304.4"/><circle cx="417.1" cy="304.5"/><circle cx="418.2" cy="304.6"/><circle cx="419.4" cy="304.7"/><circle cx="420.5" cy="304.8"/><circle cx="421.7" cy="304.9"/><circle cx="422.8" cy="305.0"/><circle cx="424.0" cy="305.1"/><circle cx="425.1" cy="305.2"/><circle cx="426.3" cy="305.3"/><circle cx="427.4" cy="305.4"/><circle cx="428.6" cy="305.5"/><circle cx="429.8" cy="305.6"/><circle cx="430.9" cy="305.7"/><circle cx="432.0" cy="305.8"/><circle cx="433.2" cy="305.9"/><circle cx="434.3" cy="306.0"/><circle cx="435.5" cy="306.1"/><circle cx="436.6" cy="306.2"/><circle cx="437.8" cy="306.2"/><circle cx="438.9" cy="306.3"/><circle cx="440.1" cy="306.4"/><circle cx="441.2" cy="306.5"/><circle cx="442.4" cy="306.6"/><circle cx="443.5" cy="306.7"/><circle cx="444.7" cy="306.8"/><circle cx="445.8" cy="306.9"/><circle cx="446.5" cy="306.9"/></g>
<g font-size="21" fill="#000"><text x="102.0" y="354" text-anchor="middle">0</text><text x="159.5" y="354" text-anchor="middle">50</text><text x="217.0" y="354" text-anchor="middle">100</text><text x="274.5" y="354" text-anchor="middle">150</text><text x="332.0" y="354" text-anchor="middle">200</text><text x="389.5" y="354" text-anchor="middle">250</text><text x="447.0" y="354" text-anchor="middle">300</text><text x="94" y="336.0" text-anchor="end">0.00</text><text x="94" y="263.6" text-anchor="end">0.02</text><text x="94" y="191.2" text-anchor="end">0.04</text><text x="94" y="118.8" text-anchor="end">0.06</text><text x="94" y="46.4" text-anchor="end">0.08</text></g>
<text x="262.3" y="379.4" font-size="20.6"><tspan font-style="italic">T</tspan><tspan dx="-1.8"> (K)</tspan></text>
<g transform="translate(34.2,268) rotate(-90)" font-size="21.5">
<text x="0" y="0" font-style="italic">M</text>
<text x="33.4" y="0" textLength="14.6" lengthAdjust="spacingAndGlyphs">μ</text>
<text x="48.6" y="11.6" font-size="16.5">B</text>
<text x="63.5" y="0">per</text>
<text x="100.3" y="0">Ru</text>
<text x="126.5" y="-14.6">3+</text>
</g>
<path d="M13.7 235.8Q27.2 248.6 40.6 235.8Q27.2 245.0 13.7 235.8Z" fill="#000" stroke="#000" stroke-width="0.5"/>
<path d="M13.7 116.0Q27.2 103.0 40.6 116.0Q27.2 106.8 13.7 116.0Z" fill="#000" stroke="#000" stroke-width="0.5"/>
<text x="185" y="41.8" font-size="25"><tspan>2 T </tspan><tspan dx="0.9">// </tspan><tspan dx="0.9" font-style="italic">ab</tspan></text>
<circle cx="318.5" cy="70.4" stroke="#008000" style="r:2.25px;stroke-width:1.05px"/><text x="347" y="78" font-size="21" fill="#008000">0 GPa</text>
<circle cx="318.5" cy="95.5" stroke="#ff0000" style="r:2.25px;stroke-width:1.05px"/><text x="347" y="103" font-size="21" fill="#ff0000">0.4</text>
<circle cx="318.5" cy="120.6" stroke="#0000ff" style="r:2.25px;stroke-width:1.05px"/><text x="347" y="128" font-size="21" fill="#0000ff">0.5</text>
<circle cx="318.5" cy="145.7" stroke="#808000" style="r:2.25px;stroke-width:1.05px"/><text x="347" y="153" font-size="21" fill="#808000">0.7</text>
<circle cx="318.5" cy="170.8" stroke="#800080" style="r:2.25px;stroke-width:1.05px"/><text x="347" y="178" font-size="21" fill="#800080">0.8</text>
<circle cx="318.5" cy="195.9" stroke="#ff8000" style="r:2.25px;stroke-width:1.05px"/><text x="347" y="203" font-size="21" fill="#ff8000">1.0</text>
<path d="M118.1 28.1V40.599999999999994" stroke="#ff0000" stroke-width="1.4" fill="none"/><path d="M114.8 40.599999999999994L121.39999999999999 40.599999999999994L118.1 50.9Z" fill="#ff0000"/>
<path d="M108.8 46.4V57.2" stroke="#ff0000" stroke-width="1.4" fill="none"/><path d="M105.5 57.2L112.1 57.2L108.8 67.5Z" fill="#ff0000"/>
<path d="M117.2 68.9V75.4" stroke="#ff0000" stroke-width="1.4" fill="none"/><path d="M113.9 75.4L120.5 75.4L117.2 85.7Z" fill="#ff0000"/>
<path d="M108.4 78V84.9" stroke="#ff0000" stroke-width="1.4" fill="none"/><path d="M105.10000000000001 84.9L111.7 84.9L108.4 95.2Z" fill="#ff0000"/>
<path d="M111.4 194.2V204.7" stroke="#ff0000" stroke-width="1.4" fill="none"/><path d="M108.10000000000001 204.7L114.7 204.7L111.4 215.0Z" fill="#ff0000"/>
<path d="M112.7 247.0V256.8" stroke="#ff0000" stroke-width="1.4" fill="none"/><path d="M109.4 256.8L116.0 256.8L112.7 267.1Z" fill="#ff0000"/>
<path d="M238.2 283.3V274.6" stroke="#0000ff" stroke-width="1.4" fill="none"/><path d="M234.89999999999998 274.6L241.5 274.6L238.2 264.6Z" fill="#0000ff"/>
<path d="M308.7 305.8V300.0" stroke="#0000ff" stroke-width="1.4" fill="none"/><path d="M305.4 300.0L312.0 300.0L308.7 290.0Z" fill="#0000ff"/>
<path d="M348.3 315.2V309.6" stroke="#0000ff" stroke-width="1.4" fill="none"/><path d="M345.0 309.6L351.6 309.6L348.3 299.6Z" fill="#0000ff"/>
<path d="M391 321.8V315.1" stroke="#0000ff" stroke-width="1.4" fill="none"/><path d="M387.7 315.1L394.3 315.1L391 305.1Z" fill="#0000ff"/>
<text x="112.5" y="24" font-size="18" fill="#ff0000" font-style="italic">T</text><text x="121.3" y="30.8" font-size="10" fill="#ff0000">N</text>
<text x="220.6" y="283.8" font-size="18.8" fill="#0000ff" font-style="italic">T</text><text x="230.8" y="291.5" font-size="9.6" fill="#0000ff">x</text>
</svg></body></html>
